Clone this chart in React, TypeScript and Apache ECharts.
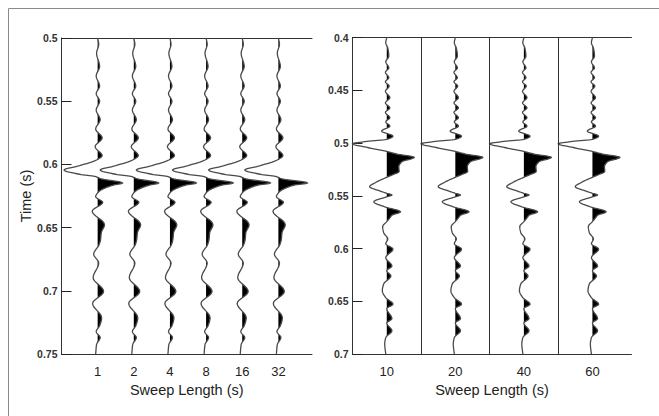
import React, { useEffect, useRef } from 'react';
import * as echarts from 'echarts';

// Trace labels (sweep lengths) and trace positions on each panel's x axis
const leftCategories = ['1', '2', '4', '8', '16', '32'];
const leftPositions = [1, 2, 3, 4, 5, 6];
const rightCategories = ['10', '20', '40', '60'];
const rightPositions = [0.5, 1.5, 2.5, 3.5];
const rightSeparators = [1, 2, 3];

// Left panel waveform (time in s, amplitude in trace-spacing units)
const leftTime = [0.5, 0.505, 0.512, 0.5225, 0.53, 0.538, 0.544, 0.55, 0.557, 0.5646, 0.572, 0.579, 0.586, 0.593, 0.5965, 0.601, 0.6045, 0.6078, 0.6095, 0.6115, 0.6147, 0.6165, 0.6185, 0.6205, 0.6225, 0.6255, 0.63, 0.637, 0.6477, 0.654, 0.6596, 0.6635, 0.671, 0.678, 0.6896, 0.7005, 0.71, 0.7213, 0.7276, 0.7323, 0.737, 0.7425, 0.75];
const leftAmp = [0, 0.03, -0.03, 0.055, -0.04, 0.055, -0.04, 0.055, -0.04, 0.07, -0.055, 0.125, -0.07, 0.125, -0.03, -0.5, -0.93, -0.5, -0.08, 0.11, 0.7, 0.42, 0.22, 0.08, 0, -0.055, 0.14, -0.15, 0.19, 0.1, 0.08, 0.04, -0.11, 0.03, -0.125, 0.165, -0.14, 0.11, 0.055, -0.04, 0.07, -0.03, -0.055];
// main peak amplitude of each left trace
const leftPeakAmp = [0.69, 0.69, 0.73, 0.75, 0.78, 0.8];

// Right panel waveform
const rightTime = [0.4, 0.405, 0.41, 0.4177, 0.423, 0.4288, 0.433, 0.438, 0.442, 0.446, 0.451, 0.457, 0.462, 0.4667, 0.471, 0.476, 0.48, 0.484, 0.4887, 0.4935, 0.4965, 0.4985, 0.5008, 0.504, 0.508, 0.5105, 0.5136, 0.5178, 0.5225, 0.527, 0.53, 0.5325, 0.537, 0.5415, 0.545, 0.5477, 0.5493, 0.551, 0.5557, 0.5605, 0.5652, 0.5685, 0.571, 0.5745, 0.5793, 0.585, 0.591, 0.5955, 0.6005, 0.6087, 0.6166, 0.621, 0.626, 0.6336, 0.64, 0.6466, 0.6528, 0.657, 0.6665, 0.6706, 0.678, 0.6845, 0.6905, 0.7];
const rightAmp = [0, -0.015, 0.015, 0.03, -0.015, 0.03, -0.02, 0.03, -0.02, 0.035, -0.02, 0.045, -0.02, 0.045, -0.02, 0.045, -0.015, 0.045, -0.075, 0.09, 0, -0.29, -0.5, -0.3, 0, 0.15, 0.4, 0.22, 0.175, 0.18, 0.09, 0, -0.15, -0.25, -0.12, 0, 0.075, 0, -0.19, -0.03, 0.2, 0.075, 0.045, 0, -0.06, -0.045, 0.015, -0.015, 0.09, -0.015, 0.075, 0, 0.06, -0.045, -0.065, -0.015, 0.09, 0, 0.075, 0, 0.075, -0.015, -0.03, -0.015];

const leftYTicks = { min: 0.5, max: 0.75, interval: 0.05 };
const rightYTicks = { min: 0.4, max: 0.7, interval: 0.05 };

const FONT = 'Liberation Sans, Arial, Helvetica, sans-serif';

// monotone cubic (PCHIP) rendering of x as a function of y, in pixel space
function smoothCurve(ys: number[], xs: number[], steps = 8): number[][] {
  const n = ys.length;
  const h: number[] = [];
  const d: number[] = [];
  for (let k = 0; k < n - 1; k++) {
    h[k] = ys[k + 1] - ys[k];
    d[k] = (xs[k + 1] - xs[k]) / h[k];
  }
  const m: number[] = new Array(n).fill(0);
  m[0] = d[0];
  m[n - 1] = d[n - 2];
  for (let k = 1; k < n - 1; k++) {
    if (d[k - 1] * d[k] <= 0) m[k] = 0;
    else {
      const w1 = 2 * h[k] + h[k - 1];
      const w2 = h[k] + 2 * h[k - 1];
      m[k] = (w1 + w2) / (w1 / d[k - 1] + w2 / d[k]);
    }
  }
  const pts: number[][] = [];
  for (let k = 0; k < n - 1; k++) {
    for (let s = 0; s < steps; s++) {
      const t = s / steps;
      const t2 = t * t;
      const t3 = t2 * t;
      const h00 = 2 * t3 - 3 * t2 + 1;
      const h10 = t3 - 2 * t2 + t;
      const h01 = -2 * t3 + 3 * t2;
      const h11 = t3 - t2;
      const x = h00 * xs[k] + h10 * h[k] * m[k] + h01 * xs[k + 1] + h11 * h[k] * m[k + 1];
      pts.push([x, ys[k] + t * h[k]]);
    }
  }
  pts.push([xs[n - 1], ys[n - 1]]);
  return pts;
}

function makeRenderItem(times: number[], ampsFor: (idx: number) => number[]) {
  return (_params: any, api: any) => {
    const pos = api.value(0);
    const idx = api.value(2);
    const amps = ampsFor(idx);
    const bx = api.coord([pos, times[0]])[0];
    const px: number[] = [];
    const py: number[] = [];
    for (let i = 0; i < times.length; i++) {
      const c = api.coord([pos + amps[i], times[i]]);
      px.push(c[0]);
      py.push(c[1]);
    }
    const pts = smoothCurve(py, px);
    const children: any[] = [];
    let run: number[][] | null = null;
    for (let i = 0; i < pts.length; i++) {
      const x = pts[i][0];
      const y = pts[i][1];
      const a = x - bx;
      if (a > 0) {
        if (!run) {
          if (i > 0) {
            const x0 = pts[i - 1][0];
            const y0 = pts[i - 1][1];
            const a0 = x0 - bx;
            const f = a0 / (a0 - a);
            run = [[bx, y0 + (y - y0) * f]];
          } else run = [[bx, y]];
        }
        run.push([x, y]);
      } else if (run) {
        const x0 = pts[i - 1][0];
        const y0 = pts[i - 1][1];
        const a0 = x0 - bx;
        const f = a0 / (a0 - a);
        run.push([bx, y0 + (y - y0) * f]);
        children.push({ type: 'polygon', shape: { points: run }, style: { fill: '#000' } });
        run = null;
      }
    }
    if (run) {
      run.push([bx, run[run.length - 1][1]]);
      children.push({ type: 'polygon', shape: { points: run }, style: { fill: '#000' } });
    }
    children.push({
      type: 'polyline',
      shape: { points: pts },
      style: { stroke: '#4a4a4a', lineWidth: 1.3, fill: 'none' },
    });
    return { type: 'group', children };
  };
}

const leftPeakIndex = leftAmp.indexOf(Math.max(...leftAmp));

export default function App() {
  const ref = useRef<HTMLDivElement>(null);
  useEffect(() => {
    if (!ref.current) return;
    const chart = echarts.init(ref.current, undefined, { renderer: 'svg' });

    const axisLineStyle = { color: '#333', width: 1 };
    const leftLabelFmt = (v: number) => {
      const i = leftPositions.findIndex((p) => Math.abs(p - v) < 1e-6);
      return i >= 0 ? leftCategories[i] : '';
    };
    const rightLabelFmt = (v: number) => {
      const i = rightPositions.findIndex((p) => Math.abs(p - v) < 1e-6);
      return i >= 0 ? rightCategories[i] : '';
    };
    const yFmt = (v: number) => String(+v.toFixed(2));

    const bottomAxis = (gridIndex: number, max: number, interval: number, fmt: (v: number) => string) => ({
      gridIndex,
      type: 'value',
      min: 0,
      max,
      interval,
      position: 'bottom',
      axisLine: { show: true, onZero: false, lineStyle: axisLineStyle },
      axisTick: { show: false },
      splitLine: { show: false },
      axisLabel: { formatter: fmt, fontSize: 13, color: '#222', margin: 11, fontFamily: FONT },
      name: 'Sweep Length (s)',
      nameLocation: 'middle',
      nameGap: 27,
      nameTextStyle: { fontSize: 14.5, color: '#222', fontFamily: FONT },
    });
    const topAxis = (gridIndex: number, max: number) => ({
      gridIndex,
      type: 'value',
      min: 0,
      max,
      position: 'top',
      axisLine: { show: true, onZero: false, lineStyle: axisLineStyle },
      axisTick: { show: false },
      axisLabel: { show: false },
      splitLine: { show: false },
    });
    const yAxis = (gridIndex: number, t: { min: number; max: number; interval: number }, name?: string) => ({
      gridIndex,
      type: 'value',
      inverse: true,
      min: t.min,
      max: t.max,
      interval: t.interval,
      axisLine: { show: true, onZero: false, lineStyle: axisLineStyle },
      axisTick: { show: true, inside: true, length: 10, lineStyle: { color: '#222', width: 1 } },
      axisLabel: { formatter: yFmt, fontSize: 10.5, fontWeight: 'bold', color: '#333', margin: 4, fontFamily: FONT },
      splitLine: { show: false },
      name: name || '',
      nameLocation: 'middle',
      nameGap: 23,
      nameTextStyle: { fontSize: 14.5, color: '#222', fontFamily: FONT },
    });

    const option: any = {
      animation: false,
      backgroundColor: '#fff',
      textStyle: { fontFamily: FONT },
      graphic: [
        {
          type: 'rect',
          silent: true,
          z: -10,
          shape: { x: 8.5, y: 8.5, width: 700, height: 500 },
          style: { fill: 'none', stroke: '#8a8a8a', lineWidth: 1 },
        },
      ],
      grid: [
        { left: 61.5, top: 38, width: 250.5, height: 316 },
        { left: 352.5, top: 37.5, width: 279, height: 316.5 },
      ],
      xAxis: [
        bottomAxis(0, 6.93, 1, leftLabelFmt),
        topAxis(0, 6.93),
        bottomAxis(1, 4.07, 0.5, rightLabelFmt),
        topAxis(1, 4.07),
      ],
      yAxis: [yAxis(0, leftYTicks, 'Time (s)'), yAxis(1, rightYTicks)],
      series: [
        {
          type: 'custom',
          xAxisIndex: 0,
          yAxisIndex: 0,
          data: leftPositions.map((p, i) => [p, leftTime[0], i]),
          renderItem: makeRenderItem(leftTime, (idx) =>
            leftAmp.map((a, k) => (k === leftPeakIndex ? leftPeakAmp[idx] : a))
          ),
        },
        {
          type: 'custom',
          xAxisIndex: 2,
          yAxisIndex: 1,
          data: rightPositions.map((p, i) => [p, rightTime[0], i]),
          renderItem: makeRenderItem(rightTime, () => rightAmp),
          markLine: {
            silent: true,
            symbol: ['none', 'none'],
            label: { show: false },
            lineStyle: { color: '#333', width: 1, type: 'solid' },
            data: rightSeparators.map((x) => ({ xAxis: x })),
          },
        },
      ],
    };
    chart.setOption(option);
    return () => chart.dispose();
  }, []);
  return (
    <div
      ref={ref}
      style={{ position: 'fixed', left: 0, top: 0, width: 659, height: 416, background: '#fff' }}
    />
  );
}
